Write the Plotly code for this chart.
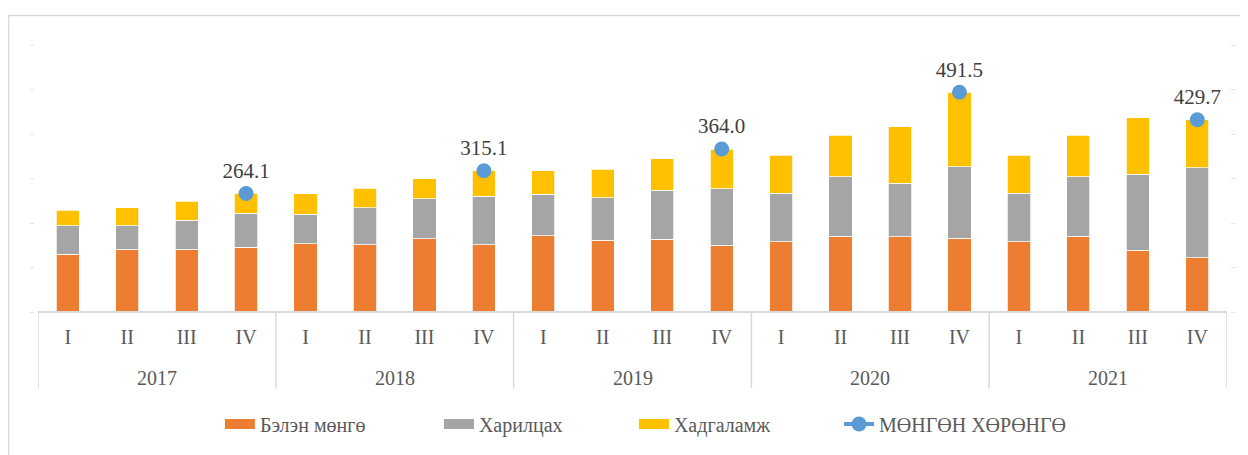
import plotly.graph_objects as go

years = ["2017", "2018", "2019", "2020", "2021"]
quarters = ["I", "II", "III", "IV"]

cash = [127.3, 139.1, 139.0, 143.5,
        151.5, 149.3, 162.5, 149.3,
        169.1, 159.0, 161.2, 148.0,
        155.9, 167.8, 166.9, 163.4,
        155.9, 167.8, 136.9, 119.3]
current = [64.7, 52.9, 65.3, 76.2,
           65.4, 83.0, 90.3, 108.7,
           93.3, 96.0, 110.0, 126.8,
           108.7, 133.4, 120.4, 160.7,
           108.7, 133.4, 170.9, 202.6]
deposit = [34.3, 39.6, 42.7, 44.4,
           46.2, 44.0, 44.0, 57.1,
           52.9, 63.1, 70.5, 89.2,
           85.0, 93.3, 127.1, 167.4,
           85.0, 93.3, 126.4, 107.8]
total_q4 = [None, None, None, 264.1,
            None, None, None, 315.1,
            None, None, None, 364.0,
            None, None, None, 491.5,
            None, None, None, 429.7]

names = ["Бэлэн мөнгө", "Харилцах", "Хадгаламж", "МӨНГӨН ХӨРӨНГӨ"]
colors = ["#ED7D31", "#A5A5A5", "#FFC000", "#5B9BD5"]

xcats = [f"{y} {q}" for y in years for q in quarters]
qlabels = [q for y in years for q in quarters]
nq = len(quarters)

FONT = "Liberation Serif"
GREY_TXT = "#595959"
AXIS_GREY = "#d9d9d9"

# legend placement (left edge of each legend, paper coords)
leg_x = [0.1530, 0.3372, 0.5012, 0.6737]
leg_keys = ["legend", "legend2", "legend3", "legend4"]

fig = go.Figure()
for i, (vals, nm, col) in enumerate(zip([cash, current, deposit], names[:3], colors[:3])):
    fig.add_trace(go.Bar(x=xcats, y=vals, name=nm,
                         marker=dict(color=col, line=dict(color="white", width=0.75)),
                         showlegend=False, legendgroup=nm))
    fig.add_trace(go.Scatter(x=[xcats[0]], y=[None], mode="lines", name=nm,
                             line=dict(color=col, width=10), legendgroup=nm, hoverinfo="skip",
                             legend=leg_keys[i]))

fig.add_trace(go.Scatter(
    x=xcats, y=total_q4, name=names[3], mode="lines+markers+text",
    line=dict(color=colors[3], width=4), marker=dict(color=colors[3], size=15),
    text=[None if v is None else f"{v:.1f}" for v in total_q4],
    textposition="top center", textfont=dict(family=FONT, size=21, color="#404040"),
    yaxis="y2", connectgaps=False, legend="legend4",
))

tickvals = [0, 100, 200, 300, 400, 500, 600]
ticktext = ["–"] * len(tickvals)

# year labels and group dividers along the category axis
annotations = []
for k, y in enumerate(years):
    annotations.append(dict(x=k * nq + (nq - 1) / 2, y=-0.25, xref="x", yref="paper", text=y,
                            showarrow=False, yanchor="middle",
                            font=dict(family=FONT, size=20, color=GREY_TXT)))
shapes = [dict(type="rect", xref="paper", yref="paper", x0=-0.0248, x1=1.1, y0=-1, y1=1.1066,
               line=dict(color=AXIS_GREY, width=1.5), fillcolor="rgba(0,0,0,0)", layer="below")]
for k in range(len(years) + 1):
    xb = k * nq - 0.5
    shapes.append(dict(type="line", xref="x", yref="paper", x0=xb, x1=xb, y0=0, y1=-0.29,
                       line=dict(color=AXIS_GREY, width=1.5)))

legend_common = dict(orientation="h", y=-0.423, yanchor="middle", xanchor="left",
                     font=dict(family=FONT, size=20, color=GREY_TXT), bgcolor="rgba(0,0,0,0)")

fig.update_layout(
    width=1240, height=447,
    margin=dict(l=30, r=21, t=36, b=138),
    paper_bgcolor="white", plot_bgcolor="white",
    barmode="stack", bargap=0.61,
    font=dict(family=FONT, size=20, color=GREY_TXT),
    xaxis=dict(type="category", range=[-0.5, len(xcats) - 0.5], tickvals=xcats, ticktext=qlabels,
               showline=True, linecolor=AXIS_GREY, linewidth=1.5, ticks="",
               tickfont=dict(family=FONT, size=20, color=GREY_TXT), showgrid=False,
               ticklabelstandoff=7, automargin=False),
    yaxis=dict(range=[0, 600], tickvals=tickvals, ticktext=ticktext, showgrid=False,
               zeroline=False, showline=False, tickfont=dict(size=8, color="#bfbfbf"),
               ticklabelstandoff=3, automargin=False),
    yaxis2=dict(range=[0, 600], overlaying="y", side="right", tickvals=tickvals, ticktext=ticktext,
                showgrid=False, zeroline=False, showline=False, tickfont=dict(size=8, color="#bfbfbf"),
                ticklabelstandoff=3, automargin=False),
    legend=dict(x=leg_x[0], **legend_common),
    legend2=dict(x=leg_x[1], **legend_common),
    legend3=dict(x=leg_x[2], **legend_common),
    legend4=dict(x=leg_x[3], **legend_common),
    annotations=annotations,
    shapes=shapes,
)

fig.write_html("out.html")
